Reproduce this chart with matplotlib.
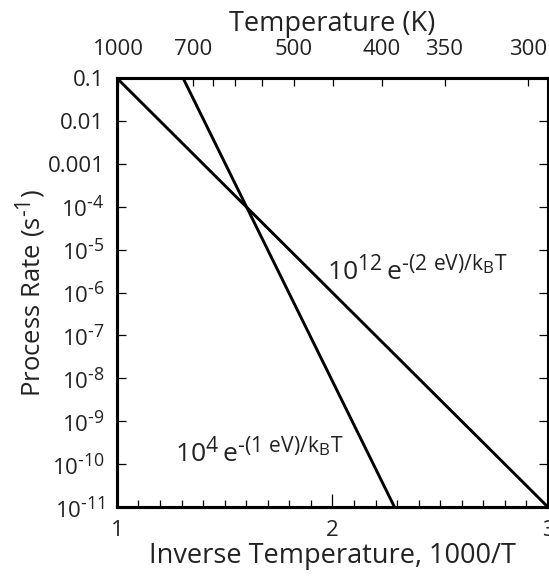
import matplotlib
matplotlib.use("Agg")
import matplotlib.pyplot as plt
import matplotlib._mathtext as mathtext_internal
from matplotlib.ticker import FixedLocator, NullLocator, MultipleLocator

plt.rcParams['font.family'] = ['Open Sans', 'DejaVu Sans']
plt.rcParams['mathtext.fontset'] = 'custom'
plt.rcParams['mathtext.rm'] = 'Open Sans'
plt.rcParams['mathtext.it'] = 'Open Sans'
plt.rcParams['mathtext.bf'] = 'Open Sans'
# the original uses larger superscripts than mathtext's default
mathtext_internal.SHRINK_FACTOR = 0.8

TXT = '#222222'

# endpoints (x = 1000/T, y = rate in 1/s)
line_1ev_x = [1.0, 3.0]
line_1ev_y = [1e-1, 1e-11]
line_2ev_x = [1.307, 2.288]
line_2ev_y = [1e-1, 1e-11]

y_ticks = [1e-1, 1e-2, 1e-3, 1e-4, 1e-5, 1e-6, 1e-7, 1e-8, 1e-9, 1e-10, 1e-11]
y_labels = ['0.1', '0.01', '0.001'] + [r'$\mathregular{10^{\text{-}%d}}$' % n for n in range(4, 12)]

x_ticks = [1, 2, 3]
top_temps = [1000, 700, 650, 600, 550, 500, 450, 400, 350, 300]
top_labeled = [1000, 700, 500, 400, 350, 300]

fig = plt.figure(figsize=(5.49, 5.78), dpi=100)
ax = fig.add_axes([0.213, 0.1228, 0.785, 0.742])

ax.plot(line_1ev_x, line_1ev_y, color='black', lw=2.1, solid_capstyle='butt')
ax.plot(line_2ev_x, line_2ev_y, color='black', lw=2.1, solid_capstyle='butt')

ax.set_yscale('log')
ax.set_xlim(1, 3)
ax.set_ylim(1e-11, 1e-1)

ax.yaxis.set_major_locator(FixedLocator(y_ticks))
ax.yaxis.set_minor_locator(NullLocator())
ax.set_yticklabels(y_labels)
ax.xaxis.set_major_locator(FixedLocator(x_ticks))
ax.xaxis.set_minor_locator(MultipleLocator(0.1))
ax.set_xticklabels([str(v) for v in x_ticks])

ax.tick_params(axis='y', which='major', direction='in', length=6.5, width=0.9,
               left=True, right=True, labelsize=16, labelcolor=TXT, pad=9)
ax.tick_params(axis='x', which='major', direction='in', length=9.5, width=0.9,
               bottom=True, top=False, labelsize=16, labelcolor=TXT, pad=9)
ax.tick_params(axis='x', which='minor', direction='in', length=5, width=0.9,
               bottom=True, top=False)

for s in ax.spines.values():
    s.set_linewidth(2.2)

ax.set_xlabel('Inverse Temperature, 1000/T', fontsize=19.5, color=TXT, labelpad=1)
ax.set_ylabel(r'Process Rate (s$^{\mathregular{\text{-}1}}$)', fontsize=18.5, color=TXT, labelpad=-1)

# top temperature axis (hand-placed scale in the original, about 176 px per unit of 1000/T)
top = ax.twiny()
top.set_xlim(0.994, 3.445)
top.xaxis.set_major_locator(FixedLocator([1000.0 / t for t in top_temps]))
top.set_xticklabels([str(t) if t in top_labeled else '' for t in top_temps])
top.tick_params(axis='x', direction='in', length=6, width=0.9, labelsize=16,
                labelcolor=TXT, pad=13)
top.set_xlabel('Temperature (K)', fontsize=19.5, color=TXT, labelpad=6)
for s in top.spines.values():
    s.set_linewidth(2.2)

ax.text(1.27, 1.1e-10, r'$\mathregular{10^{4}\,e^{\text{-}(1\ eV)/k_{B}T}}$',
        fontsize=19, color=TXT, va='baseline', ha='left')
ax.text(1.977, 1.95e-6, r'$\mathregular{10^{12}\,e^{\text{-}(2\ eV)/k_{B}T}}$',
        fontsize=19, color=TXT, va='baseline', ha='left')

fig.savefig('out.png', dpi=100)
